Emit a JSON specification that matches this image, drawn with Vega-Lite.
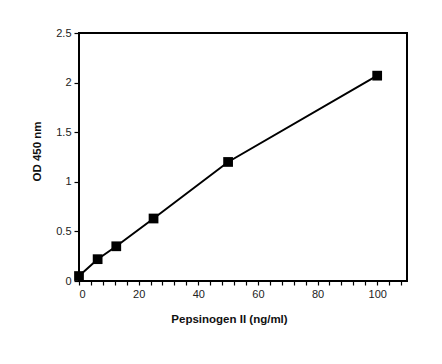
{
  "$schema": "https://vega.github.io/schema/vega-lite/v6.json",
  "autosize": {"type": "none"},
  "padding": {"left": 79, "top": 33, "right": 35, "bottom": 83},
  "width": 328,
  "height": 248,
  "background": "white",
  "config": {
    "view": {"stroke": "black", "strokeWidth": 2},
    "axis": {
      "grid": false,
      "domain": false,
      "tickColor": "black",
      "tickWidth": 1.2,
      "tickSize": 4,
      "labelFont": "Liberation Sans",
      "labelFontSize": 11,
      "labelColor": "#222",
      "titleFont": "Liberation Sans",
      "titleFontSize": 11.5,
      "titleFontWeight": "bold",
      "titleColor": "#111"
    }
  },
  "data": {
    "values": [
      {"conc": 0, "od": 0.05},
      {"conc": 6.25, "od": 0.22},
      {"conc": 12.5, "od": 0.35},
      {"conc": 25, "od": 0.63},
      {"conc": 50, "od": 1.2},
      {"conc": 100, "od": 2.07}
    ]
  },
  "encoding": {
    "x": {
      "field": "conc",
      "type": "quantitative",
      "scale": {"domain": [0, 110], "nice": false, "zero": false},
      "axis": {
        "title": "Pepsinogen II (ng/ml)",
        "values": [0, 4, 8, 12, 16, 20, 24, 28, 32, 36, 40, 44, 48, 52, 56, 60, 64, 68, 72, 76, 80, 84, 88, 92, 96, 100, 104, 108],
        "labelExpr": "datum.value % 20 == 0 ? datum.label : ''",
        "labelPadding": 3,
        "titlePadding": 14,
        "titleX": 150
      }
    },
    "y": {
      "field": "od",
      "type": "quantitative",
      "scale": {"domain": [0, 2.5], "nice": false},
      "axis": {
        "title": "OD 450 nm",
        "values": [0, 0.5, 1, 1.5, 2, 2.5],
        "format": ".2~f",
        "tickSize": 5,
        "labelPadding": 3,
        "titlePadding": 13,
        "titleY": 118
      }
    }
  },
  "layer": [
    {"mark": {"type": "line", "color": "black", "strokeWidth": 2, "clip": false}},
    {"mark": {"type": "point", "shape": "square", "filled": true, "color": "black", "size": 95, "opacity": 1, "clip": false}}
  ]
}
